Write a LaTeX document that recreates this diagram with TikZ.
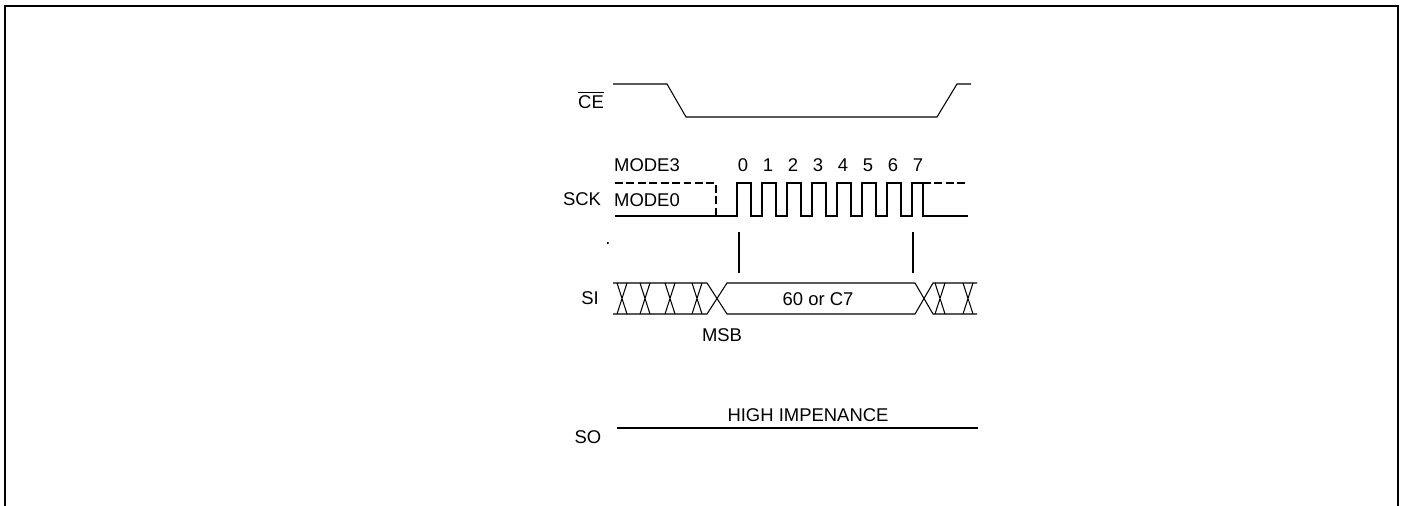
\documentclass[tikz,border=0pt]{standalone}
\usepackage{fontspec}
\setmainfont{Liberation Sans}
\tikzset{
	wave/.style={line width=0.6pt},
	dashwave/.style={line width=0.6pt, dash pattern=on 4.5pt off 2pt},
	lbl/.style={font=\fontsize{10.5}{12}\selectfont, inner sep=0pt}
}

\begin{document}
\begin{tikzpicture}[x=0.02cm, y=-0.02cm]
	\useasboundingbox (0,0) rectangle (1402,506);
	% frame
	\draw[line width=1.2pt] (5,506) -- (5,6) -- (1398,6) -- (1398,506);
	
	% signal names
	\node (ce) [lbl] at (591,100) {$\overline{\mbox{CE}}$};
	\node (sck) [lbl] at (582,199) {SCK};
	\node (si) [lbl] at (590,298) {SI};
	\node (so) [lbl] at (588,437) {SO};
	\node (dot) [lbl] at (608,244) {.};
	
	% CE
	\draw[wave] (613,84) -- (667,84) -- (686,117) -- (937,117) -- (957,84) -- (971,84);
	
	% SCK, mode 3 idles high, mode 0 idles low
	\node (m3) [lbl] at (647,165) {MODE3};
	\node (m0) [lbl] at (647,200) {MODE0};
	\draw[dashwave] (615,183) -- (716,183) -- (716,216);
	\draw[dashwave] (923,183) -- (967,183);
	\draw[wave] (615,216) -- (737,216)
		\foreach \k in {0,...,6} { -- ++(0,-33) -- ++(14,0) -- ++(0,33) -- ++(11,0) }
		-- ++(0,-33) -- (923,183) -- (923,216) -- (968,216);
	\foreach \n in {0,...,7}
		\node (b\n) [lbl] at (743+25*\n,165) {\n};
	
	% sampling marks
	\draw[wave] (739,232) -- (739,273);
	\draw[wave] (913,232) -- (913,273);
	
	% SI
	\draw[wave] (613,283) -- (707,283) -- (727,314) -- (915,314) -- (933,283) -- (977,283);
	\draw[wave] (613,314) -- (707,314) -- (727,283) -- (915,283) -- (933,314) -- (977,314);
	\foreach \c in {622,645,670,697,940,968}
		\draw[wave] (\c-5,283) -- (\c+5,314) (\c-5,314) -- (\c+5,283);
	\node (data) [lbl] at (818,299) {60 or C7};
	\node (msb) [lbl] at (722,335) {MSB};
	
	% SO
	\draw[wave] (617,428) -- (978,428);
	\node (hiz) [lbl] at (808,415) {HIGH IMPENANCE};
\end{tikzpicture}
\end{document}
